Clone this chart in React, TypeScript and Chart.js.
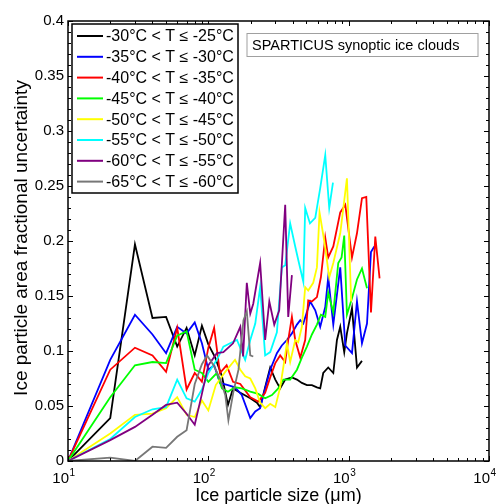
import React, { useEffect, useRef } from 'react';
import { Chart, registerables } from 'chart.js';

Chart.register(...registerables);

const LABELS = [
  '-30°C < T ≤ -25°C',
  '-35°C < T ≤ -30°C',
  '-40°C < T ≤ -35°C',
  '-45°C < T ≤ -40°C',
  '-50°C < T ≤ -45°C',
  '-55°C < T ≤ -50°C',
  '-60°C < T ≤ -55°C',
  '-65°C < T ≤ -60°C',
];
const COLORS = ['#000000', '#0000ff', '#ff0000', '#00ff00', '#ffff00', '#00ffff', '#800080', '#777777'];

const X_BLACK = [10,20,30,40,50,60,70,80,90,100,112,125,138,150,169,199,222,234,254,276,300,325,353,394,428,464,504,547,594,627,659,715,777,825,871,930,972,1056,1146,1244];
const Y_BLACK = [0,0.039,0.197,0.130,0.131,0.104,0.121,0.096,0.123,0.106,0.094,0.077,0.051,0.066,0.062,0.057,0.053,0.049,0.067,0.085,0.074,0.066,0.074,0.076,0.074,0.071,0.069,0.069,0.067,0.066,0.080,0.085,0.080,0.110,0.122,0.099,0.116,0.139,0.085,0.091];

const X_BLUE = [10,20,30,40,50,60,70,80,90,100,110,121,138,155,173,199,216,234,254,276,308,334,363,394,428,452,475,532,578,627,681,715,777,871,946,1056,1146,1244,1351,1442,1523];
const Y_BLUE = [0,0.092,0.133,0.115,0.098,0.122,0.116,0.126,0.107,0.083,0.087,0.071,0.069,0.067,0.060,0.039,0.045,0.048,0.066,0.083,0.098,0.105,0.110,0.116,0.124,0.128,0.125,0.145,0.137,0.122,0.140,0.167,0.124,0.176,0.105,0.098,0.145,0.107,0.125,0.190,0.195];

const X_RED = [10,20,30,40,50,60,70,80,90,100,110,121,135,150,169,199,227,254,276,300,325,353,371,394,416,452,490,515,547,594,634,681,715,777,871,946,1056,1146,1244,1335,1442,1548,1661];
const Y_RED = [0,0.083,0.103,0.096,0.081,0.121,0.065,0.080,0.072,0.103,0.121,0.080,0.087,0.072,0.070,0.058,0.054,0.062,0.076,0.089,0.096,0.090,0.110,0.131,0.110,0.094,0.110,0.146,0.145,0.149,0.167,0.203,0.185,0.195,0.226,0.233,0.185,0.207,0.239,0.240,0.135,0.204,0.166];

const X_GREEN = [10,20,30,40,50,60,70,80,90,100,115,125,138,155,173,199,227,254,284,315,342,383,428,464,504,547,594,634,681,715,777,843,890,930,972,1056,1146,1244,1351];
const Y_GREEN = [0,0.058,0.087,0.090,0.089,0.114,0.118,0.083,0.080,0.072,0.080,0.066,0.063,0.067,0.066,0.063,0.061,0.057,0.060,0.066,0.074,0.074,0.083,0.094,0.104,0.115,0.124,0.133,0.131,0.153,0.135,0.180,0.185,0.205,0.133,0.148,0.165,0.175,0.157];

const X_YELLOW = [10,20,30,40,50,60,70,80,90,100,113,132,155,169,183,199,216,234,254,276,300,325,342,363,383,416,437,464,490,515,559,594,620,670,727,777,871,972,1042];
const Y_YELLOW = [0,0.025,0.042,0.043,0.048,0.058,0.042,0.040,0.055,0.046,0.069,0.081,0.092,0.083,0.077,0.075,0.066,0.053,0.048,0.052,0.049,0.067,0.085,0.107,0.090,0.110,0.108,0.122,0.158,0.155,0.162,0.176,0.226,0.200,0.167,0.180,0.207,0.257,0.145];

const X_CYAN = [10,20,30,40,50,60,70,80,90,100,115,128,143,160,183,199,216,234,254,276,308,334,353,383,416,437,475,490,530,578,627,681,727,773];
const Y_CYAN = [0,0.020,0.040,0.047,0.049,0.074,0.057,0.054,0.065,0.080,0.092,0.104,0.107,0.110,0.092,0.110,0.125,0.158,0.096,0.099,0.117,0.176,0.178,0.216,0.195,0.183,0.163,0.230,0.216,0.221,0.248,0.278,0.230,0.253];

const X_PURPLE = [10,20,30,40,50,60,70,80,90,100,115,128,150,169,177,188,199,209,234,254,272,295,320,353,371,394];
const Y_PURPLE = [0,0.019,0.031,0.042,0.051,0.053,0.043,0.033,0.061,0.087,0.098,0.099,0.107,0.122,0.095,0.162,0.134,0.143,0.180,0.110,0.145,0.124,0.137,0.233,0.131,0.169];

const X_GRAY = [10,20,30,40,50,60,70,80,90,98,109,121,132,139,151,164,178,188,199,209];
const Y_GRAY = [0,0.003,0,0.013,0.012,0.022,0.028,0.070,0.088,0.096,0.087,0.075,0.060,0.037,0.063,0.083,0.128,0.136,0.096,0.095];

const SERIES_X = [X_BLACK, X_BLUE, X_RED, X_GREEN, X_YELLOW, X_CYAN, X_PURPLE, X_GRAY];
const SERIES_Y = [Y_BLACK, Y_BLUE, Y_RED, Y_GREEN, Y_YELLOW, Y_CYAN, Y_PURPLE, Y_GRAY];

const Y_TICKS = [0, 0.05, 0.1, 0.15, 0.2, 0.25, 0.3, 0.35, 0.4];
const Y_TICK_LABELS = ['0', '0.05', '0.1', '0.15', '0.2', '0.25', '0.3', '0.35', '0.4'];
const X_TICKS = [10, 100, 1000, 10000];
const X_TICK_EXPONENTS = ['1', '2', '3', '4'];
const X_TITLE = 'Ice particle size (μm)';
const Y_TITLE = 'Ice particle area fractional uncertainty';
const NOTE = 'SPARTICUS synoptic ice clouds';

const FONT = '"Liberation Sans", Arial, Helvetica, sans-serif';

const framePlugin = {
  id: 'matlabFrame',
  afterDraw(chart: any) {
    const { ctx, chartArea: a, scales } = chart;
    const xs = scales.x;
    const ys = scales.y;
    ctx.save();

    // ticks
    ctx.strokeStyle = '#000';
    ctx.lineWidth = 1;
    ctx.beginPath();
    for (let d = 1; d <= 4; d++) {
      for (let m = 1; m <= 9; m++) {
        const v = m * Math.pow(10, d);
        if (v > 10000) break;
        const len = m === 1 ? 5 : 3;
        const px = Math.round(xs.getPixelForValue(v)) + 0.5;
        ctx.moveTo(px, a.bottom);
        ctx.lineTo(px, a.bottom - len);
        ctx.moveTo(px, a.top);
        ctx.lineTo(px, a.top + len);
      }
    }
    for (let i = 0; i <= 40; i++) {
      const v = i / 100;
      const len = i % 5 === 0 ? 5 : 3;
      const py = Math.round(ys.getPixelForValue(v)) + 0.5;
      ctx.moveTo(a.left, py);
      ctx.lineTo(a.left + len, py);
      ctx.moveTo(a.right, py);
      ctx.lineTo(a.right - len, py);
    }
    ctx.stroke();

    // frame
    ctx.lineWidth = 1.5;
    ctx.strokeRect(a.left, a.top, a.right - a.left, a.bottom - a.top);

    // y tick labels
    ctx.fillStyle = '#000';
    ctx.font = `15px ${FONT}`;
    ctx.textAlign = 'right';
    ctx.textBaseline = 'middle';
    Y_TICKS.forEach((v, i) => {
      ctx.fillText(Y_TICK_LABELS[i], a.left - 4, ys.getPixelForValue(v));
    });

    // x tick labels
    X_TICKS.forEach((v, i) => {
      const px = xs.getPixelForValue(v);
      ctx.font = `15px ${FONT}`;
      ctx.textAlign = 'right';
      ctx.textBaseline = 'alphabetic';
      ctx.fillText('10', px + 1, 483);
      ctx.font = `10px ${FONT}`;
      ctx.textAlign = 'left';
      ctx.fillText(X_TICK_EXPONENTS[i], px + 1.5, 476);
    });

    // axis titles
    ctx.font = `18px ${FONT}`;
    ctx.textAlign = 'center';
    ctx.textBaseline = 'alphabetic';
    ctx.fillText(X_TITLE, (a.left + a.right) / 2, 501);
    ctx.save();
    ctx.translate(27, (a.top + a.bottom) / 2 - 3);
    ctx.rotate(-Math.PI / 2);
    ctx.font = `19px ${FONT}`;
    ctx.fillText(Y_TITLE, 0, 0);
    ctx.restore();

    // legend
    const lx = 72, ly = 24, lw = 166, lh = 169;
    ctx.fillStyle = '#fff';
    ctx.fillRect(lx, ly, lw, lh);
    ctx.lineWidth = 1.5;
    ctx.strokeStyle = '#000';
    ctx.strokeRect(lx, ly, lw, lh);
    ctx.font = `16px ${FONT}`;
    ctx.textAlign = 'left';
    ctx.textBaseline = 'middle';
    LABELS.forEach((lab, i) => {
      const y = 36 + i * 20.8;
      ctx.strokeStyle = COLORS[i];
      ctx.lineWidth = 2;
      ctx.beginPath();
      ctx.moveTo(77, y);
      ctx.lineTo(103, y);
      ctx.stroke();
      ctx.fillStyle = '#000';
      ctx.fillText(lab, 106, y + 1);
    });

    // note box
    ctx.fillStyle = '#fff';
    ctx.fillRect(247, 33.5, 231, 23);
    ctx.strokeStyle = '#a0a0a0';
    ctx.lineWidth = 1;
    ctx.strokeRect(247, 33.5, 231, 23);
    ctx.fillStyle = '#000';
    ctx.font = `14.5px ${FONT}`;
    ctx.textAlign = 'left';
    ctx.textBaseline = 'middle';
    ctx.fillText(NOTE, 252, 45.5);

    ctx.restore();
  },
};

export default function App() {
  const ref = useRef<HTMLCanvasElement | null>(null);

  useEffect(() => {
    if (!ref.current) return;
    const datasets = SERIES_X.map((xsArr, i) => ({
      label: LABELS[i],
      data: xsArr.map((x, j) => ({ x, y: SERIES_Y[i][j] })),
      borderColor: COLORS[i],
      backgroundColor: COLORS[i],
      borderWidth: 1.8,
      pointRadius: 0,
      tension: 0,
      fill: false,
      order: SERIES_X.length - i,
    }));
    const chart = new Chart(ref.current, {
      type: 'line',
      data: { datasets },
      options: {
        animation: false,
        responsive: true,
        maintainAspectRatio: false,
        devicePixelRatio: 1,
        layout: { padding: { left: 0, right: 10, top: 21, bottom: 0 } },
        plugins: { legend: { display: false }, tooltip: { enabled: false } },
        scales: {
          x: {
            type: 'logarithmic',
            min: 10,
            max: 10000,
            grid: { display: false },
            border: { display: false },
            ticks: { display: false },
            afterFit: (s: any) => { s.height = 43; },
          },
          y: {
            type: 'linear',
            min: 0,
            max: 0.4,
            grid: { display: false },
            border: { display: false },
            ticks: { display: false },
            afterFit: (s: any) => { s.width = 68; },
          },
        },
      } as any,
      plugins: [framePlugin],
    });
    return () => chart.destroy();
  }, []);

  return (
    <div style={{ position: 'fixed', left: 0, top: 0, width: 499, height: 504, background: '#fff' }}>
      <canvas ref={ref} />
    </div>
  );
}
